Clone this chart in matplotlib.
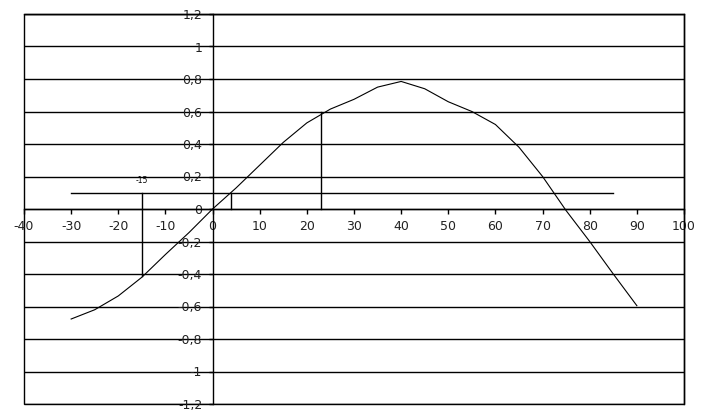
import numpy as np
import matplotlib.pyplot as plt
from matplotlib.ticker import FuncFormatter, MultipleLocator

plt.rcParams['axes.unicode_minus'] = False

# curve values
x_curve = [-30, -25, -20, -15, -10, -5, 0, 5, 10, 15, 20, 25, 30, 35, 40,
           45, 50, 55, 60, 65, 70, 75, 80, 85, 90]
y_curve = [-0.677, -0.62, -0.535, -0.42, -0.28, -0.145, 0.0, 0.13, 0.27, 0.41,
           0.53, 0.615, 0.675, 0.75, 0.785, 0.74, 0.66, 0.60, 0.52, 0.38,
           0.20, -0.01, -0.20, -0.40, -0.595]

# helper lines
h_x = [-30, 85]
h_y = 0.1
v_lines = [(-15, 0.1, -0.41), (4, 0.0, 0.1), (23, 0.0, 0.6)]
mark_label = '-15'
mark_pos = (-15, 0.175)

fig = plt.figure(figsize=(7.07, 4.18), dpi=100)
ax = fig.add_axes([24 / 707, 14 / 418, 660 / 707, 390 / 418])

ax.set_xlim(-40, 100)
ax.set_ylim(-1.2, 1.2)

# frame around plot area
ax.patch.set_edgecolor('black')
ax.patch.set_linewidth(1)

# axes crossing at origin
ax.spines['left'].set_position(('data', 0))
ax.spines['bottom'].set_position(('data', 0))
for s in ax.spines.values():
    s.set_linewidth(1)
    s.set_color('black')

ax.xaxis.set_major_locator(MultipleLocator(10))
ax.yaxis.set_major_locator(MultipleLocator(0.2))
fmt = FuncFormatter(lambda v, p: f"{round(v, 2):g}".replace('.', ','))
ax.xaxis.set_major_formatter(fmt)
ax.yaxis.set_major_formatter(fmt)
ax.tick_params(axis='x', direction='out', length=3.5, width=1, pad=4.5,
               labelsize=9, labelcolor='#222222')
ax.tick_params(axis='y', direction='out', length=3, width=1, pad=4.5,
               labelsize=9, labelcolor='#222222')

ax.grid(True, axis='y', color='black', linewidth=1)

ax.plot(x_curve, y_curve, color='black', linewidth=0.8)
ax.plot(h_x, [h_y, h_y], color='black', linewidth=1)
for vx, y0, y1 in v_lines:
    ax.plot([vx, vx], [y0, y1], color='black', linewidth=1)

ax.text(mark_pos[0], mark_pos[1], mark_label, fontsize=5.5, ha='center', va='center')

plt.savefig('out.png', dpi=100)
